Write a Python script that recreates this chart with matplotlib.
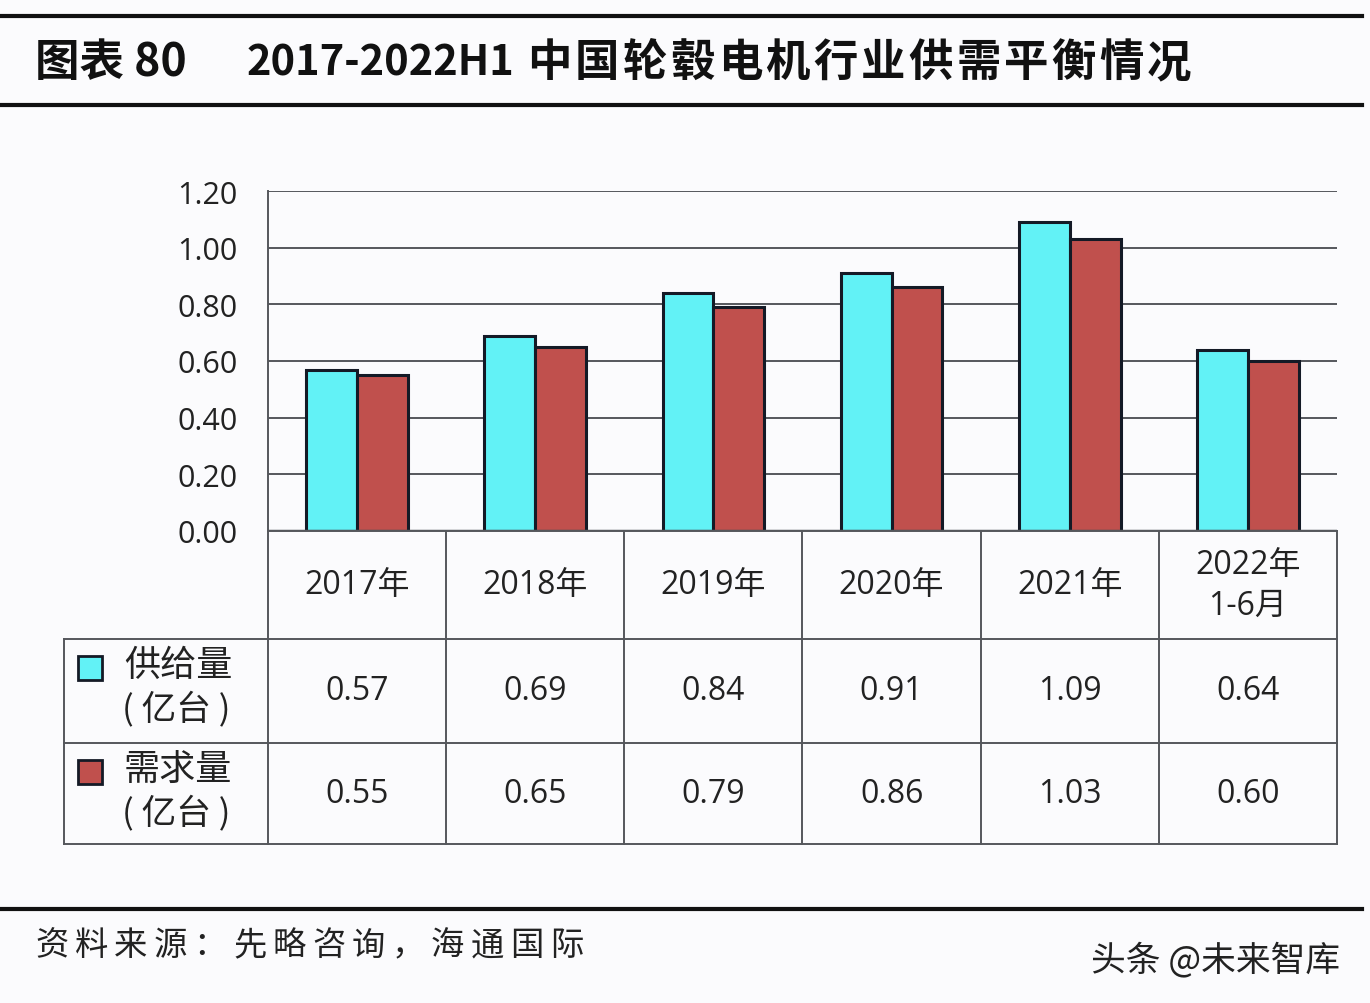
import matplotlib
matplotlib.use("Agg")
import matplotlib.pyplot as plt
from matplotlib.patches import Rectangle

plt.rcParams['font.family'] = ['Open Sans', 'Noto Sans CJK SC', 'DejaVu Sans']
CJK = ['Noto Sans CJK SC', 'DejaVu Sans']

categories = ["2017年", "2018年", "2019年", "2020年", "2021年", "2022年\n1-6月"]
supply = [0.57, 0.69, 0.84, 0.91, 1.09, 0.64]
demand = [0.55, 0.65, 0.79, 0.86, 1.03, 0.60]
series_names = [("供给量", "( 亿台 )"), ("需求量", "( 亿台 )")]
yticks = [0.0, 0.2, 0.4, 0.6, 0.8, 1.0, 1.2]
title_parts = ["图表 80", "2017-2022H1", "中国轮毂电机行业供需平衡情况"]
source = "资料来源：先略咨询，海通国际"
watermark = "头条 @未来智库"

c_supply = "#62F2F6"
c_demand = "#C0504D"
edge = "#141a26"
bg = "#FBFBFD"
line_c = "#55575c"
txt_c = "#222222"

W, H = 1370, 1004
fig = plt.figure(figsize=(W / 100, H / 100), dpi=100, facecolor=bg)

ov = fig.add_axes([0, 0, 1, 1])
ov.set_xlim(0, W)
ov.set_ylim(H, 0)
ov.axis('off')
ov.patch.set_alpha(0)

x0, x1, ytop, ybot = 268, 1337, 192, 532
ax = fig.add_axes([x0 / W, 1 - ybot / H, (x1 - x0) / W, (ybot - ytop) / H])
ax.set_facecolor(bg)
n = len(categories)
xs = list(range(n))
bw = 0.285
ax.bar([x - bw / 2 for x in xs], supply, width=bw, color=c_supply, edgecolor=edge, linewidth=2.2, zorder=3)
ax.bar([x + bw / 2 for x in xs], demand, width=bw, color=c_demand, edgecolor=edge, linewidth=2.2, zorder=3)
ax.set_xlim(-0.5, n - 0.5)
ax.set_ylim(0, 1.2)
ax.set_yticks(yticks)
ax.set_yticklabels([f"{v:.2f}" for v in yticks], fontsize=22, color=txt_c)
ax.tick_params(axis='y', length=0, pad=22)
ax.set_xticks([])
ax.yaxis.grid(True, color=line_c, linewidth=1.4, zorder=0)
for s in ['top', 'right', 'bottom']:
    ax.spines[s].set_visible(False)
ax.spines['left'].set_color(line_c)
ax.spines['left'].set_linewidth(1.4)
ax.axhline(0, color=line_c, linewidth=2.5, zorder=4)

# table
col_w = (x1 - x0) / n
cols = [x0 + i * col_w for i in range(n + 1)]
r0, r1, r2, r3 = 532, 640, 744, 845
lx = 64
lw = 1.4
for c in cols:
    ov.plot([c, c], [r0, r3], color=line_c, lw=lw)
ov.plot([lx, lx], [r1, r3], color=line_c, lw=lw)
ov.plot([x0, x1], [r0, r0], color=line_c, lw=lw)
for r in (r1, r2, r3):
    ov.plot([lx, x1], [r, r], color=line_c, lw=lw)

for i, cat in enumerate(categories):
    cx = (cols[i] + cols[i + 1]) / 2
    ov.text(cx, (r0 + r1) / 2, cat, ha='center', va='center', fontsize=23,
            color=txt_c, linespacing=1.3)
    ov.text(cx, (r1 + r2) / 2, f"{supply[i]:.2f}", ha='center', va='center', fontsize=23, color=txt_c)
    ov.text(cx, (r2 + r3) / 2, f"{demand[i]:.2f}", ha='center', va='center', fontsize=23, color=txt_c)

for (ra, rb), (name, unit), col in [((r1, r2), series_names[0], c_supply), ((r2, r3), series_names[1], c_demand)]:
    ov.add_patch(Rectangle((78, ra + 17), 24, 24, facecolor=col, edgecolor=edge, lw=2))
    ov.text(124, ra + 26, name, ha='left', va='center', fontsize=26, color=txt_c, family=CJK)
    ov.text(122, ra + 69, unit, ha='left', va='center', fontsize=25, color=txt_c, family=CJK)

# title and rules
ov.plot([0, 1362], [17, 17], color="#111111", lw=3)
ov.plot([0, 1362], [106, 106], color="#111111", lw=3)
ov.plot([0, 1362], [910, 910], color="#111111", lw=3)
ov.text(35, 63, title_parts[0], ha='left', va='center', fontsize=32, fontweight='bold', color="#111111", family=CJK)
ov.text(247, 63, title_parts[1], ha='left', va='center', fontsize=30, fontweight='bold', color="#111111", family=CJK)
for k, ch in enumerate(title_parts[2]):
    ov.text(527 + k * 47.7, 63, ch, ha='left', va='center', fontsize=32, fontweight='bold', color="#111111", family=CJK)
for k, ch in enumerate(source):
    ov.text(35 + k * 39.6, 946, ch, ha='left', va='center', fontsize=24, color=txt_c, family=CJK)
ov.text(1340, 960, watermark, ha='right', va='center', fontsize=25, color=txt_c, family=CJK)

fig.savefig("out.png", dpi=100, facecolor=bg)
